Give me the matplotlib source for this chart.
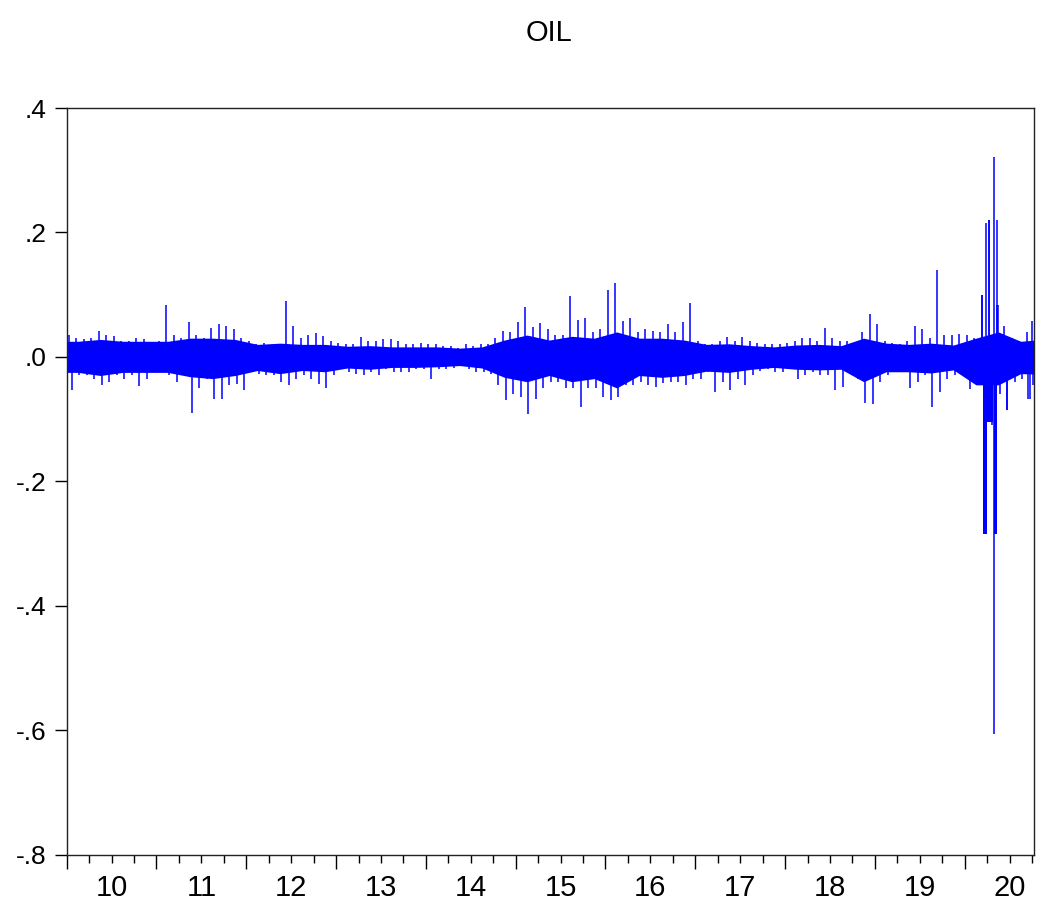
import numpy as np
import matplotlib
matplotlib.use("Agg")
import matplotlib.pyplot as plt
from matplotlib.ticker import FixedLocator, FuncFormatter

plt.rcParams['font.family'] = ['Liberation Sans Narrow', 'Liberation Sans', 'DejaVu Sans']

# daily oil returns (Jan 2010 .. Sep 2020)
month_hi = [
    0.035, 0.030, 0.028, 0.030, 0.041, 0.035, 0.033, 0.025, 0.025, 0.030, 0.028, 0.022,  # 2010
    0.025, 0.084, 0.035, 0.030, 0.056, 0.035, 0.030, 0.047, 0.052, 0.050, 0.045, 0.030,  # 2011
    0.025, 0.020, 0.022, 0.018, 0.020, 0.090, 0.049, 0.030, 0.035, 0.039, 0.034, 0.025,  # 2012
    0.022, 0.020, 0.020, 0.032, 0.025, 0.025, 0.028, 0.028, 0.025, 0.020, 0.020, 0.022,  # 2013
    0.020, 0.020, 0.018, 0.018, 0.015, 0.020, 0.018, 0.020, 0.020, 0.030, 0.041, 0.040,  # 2014
    0.056, 0.080, 0.048, 0.055, 0.045, 0.035, 0.035, 0.098, 0.060, 0.062, 0.040, 0.045,  # 2015
    0.108, 0.118, 0.058, 0.062, 0.040, 0.045, 0.042, 0.040, 0.053, 0.040, 0.056, 0.086,  # 2016
    0.025, 0.020, 0.020, 0.025, 0.032, 0.025, 0.032, 0.025, 0.022, 0.020, 0.020, 0.020,  # 2017
    0.022, 0.025, 0.030, 0.030, 0.025, 0.046, 0.030, 0.025, 0.025, 0.022, 0.040, 0.069,  # 2018
    0.053, 0.025, 0.022, 0.020, 0.025, 0.050, 0.045, 0.030, 0.139, 0.035, 0.035, 0.037,  # 2019
    0.035, 0.030, 0.100, 0.220, 0.083, 0.050, 0.030, 0.025, 0.040,                       # 2020
]
month_lo = [
    -0.054, -0.030, -0.030, -0.035, -0.045, -0.040, -0.030, -0.035, -0.030, -0.047, -0.035, -0.025,
    -0.025, -0.030, -0.041, -0.030, -0.091, -0.050, -0.035, -0.068, -0.068, -0.045, -0.043, -0.054,
    -0.025, -0.028, -0.030, -0.030, -0.040, -0.046, -0.035, -0.030, -0.035, -0.043, -0.050, -0.030,
    -0.020, -0.025, -0.028, -0.030, -0.025, -0.030, -0.020, -0.025, -0.025, -0.025, -0.020, -0.020,
    -0.035, -0.020, -0.020, -0.018, -0.015, -0.020, -0.025, -0.025, -0.028, -0.046, -0.070, -0.060,
    -0.065, -0.092, -0.068, -0.050, -0.040, -0.040, -0.050, -0.050, -0.081, -0.050, -0.050, -0.065,
    -0.070, -0.065, -0.045, -0.045, -0.040, -0.045, -0.049, -0.042, -0.040, -0.040, -0.045, -0.035,
    -0.035, -0.025, -0.057, -0.040, -0.054, -0.035, -0.046, -0.030, -0.022, -0.020, -0.025, -0.025,
    -0.020, -0.035, -0.030, -0.025, -0.030, -0.030, -0.054, -0.049, -0.025, -0.035, -0.074, -0.076,
    -0.040, -0.030, -0.025, -0.025, -0.050, -0.040, -0.030, -0.081, -0.057, -0.035, -0.030, -0.030,
    -0.051, -0.040, -0.284, -0.110, -0.060, -0.086, -0.040, -0.035, -0.067,
]

# dense core of the series, per quarter (2010Q1 .. 2020Q4)
quarter_hi = [
    0.025, 0.028, 0.025, 0.025,
    0.025, 0.030, 0.030, 0.028,
    0.020, 0.022, 0.020, 0.020,
    0.017, 0.018, 0.016, 0.016,
    0.016, 0.014, 0.016, 0.027,
    0.035, 0.027, 0.033, 0.030,
    0.040, 0.030, 0.030, 0.027,
    0.020, 0.021, 0.018, 0.016,
    0.019, 0.020, 0.018, 0.030,
    0.022, 0.020, 0.022, 0.019,
    0.030, 0.040, 0.025, 0.028,
]
quarter_lo = [
    -0.025, -0.030, -0.025, -0.025,
    -0.025, -0.032, -0.035, -0.030,
    -0.022, -0.027, -0.022, -0.024,
    -0.018, -0.020, -0.017, -0.017,
    -0.016, -0.014, -0.018, -0.033,
    -0.040, -0.030, -0.040, -0.035,
    -0.050, -0.030, -0.033, -0.030,
    -0.023, -0.025, -0.020, -0.017,
    -0.020, -0.021, -0.020, -0.040,
    -0.024, -0.024, -0.026, -0.021,
    -0.045, -0.045, -0.027, -0.028,
]

# single large moves in spring 2020 and at the end of the sample
spike_dates = [2020.189, 2020.237, 2020.274, 2020.329, 2020.329, 2020.356, 2020.371,
               2020.468, 2020.708, 2020.752, 2020.762]
spike_values = [0.099, 0.215, 0.220, 0.321, -0.607, 0.220, 0.083,
                -0.086, -0.067, 0.058, -0.045]

# periods where the series is a solid block of large negative returns
block_start = [2020.200, 2020.251, 2020.332]
block_end = [2020.251, 2020.318, 2020.359]
block_low = [-0.284, -0.105, -0.284]

x_start, x_end = 2010.0, 2020.772
blue = '#0000ff'

fig = plt.figure(figsize=(10.37, 9.13), dpi=100)
ax = fig.add_axes([66.7 / 1037, 1 - 854.5 / 913, (1034 - 66.7) / 1037, (854.5 - 108) / 913])

# core band, drawn through the quarter centres
qc = x_start + (np.arange(len(quarter_hi)) + 0.5) / 4
qx = np.concatenate([[x_start], qc, [x_end + 0.1]])
qh = np.concatenate([[quarter_hi[0]], quarter_hi, [quarter_hi[-1]]])
ql = np.concatenate([[quarter_lo[0]], quarter_lo, [quarter_lo[-1]]])
ax.fill_between(qx, ql, qh, color=blue, lw=0)

# monthly extremes as thin vertical strokes
m0 = x_start + np.arange(len(month_hi)) / 12
ax.vlines(m0 + 0.3 / 12, 0, month_hi, color=blue, lw=1.1)
ax.vlines(m0 + 0.7 / 12, 0, month_lo, color=blue, lw=1.1)

for s, e, lo in zip(block_start, block_end, block_low):
    ax.fill_between([s, e], [lo, lo], [0.03, 0.03], color=blue, lw=0)
ax.vlines(spike_dates, 0, spike_values, color=blue, lw=1.1)

ax.set_xlim(x_start, x_end)
ax.set_ylim(-0.8, 0.4)

years = np.arange(2010, 2021)
quarters = [y + q for y in years for q in (0.25, 0.5, 0.75)]
ax.xaxis.set_major_locator(FixedLocator(years))
ax.xaxis.set_minor_locator(FixedLocator(quarters))
ax.xaxis.set_major_formatter(FuncFormatter(lambda x, p: ''))
ax.xaxis.set_minor_formatter(FuncFormatter(
    lambda x, p: '%02d' % (int(x) % 100) if abs(x % 1 - 0.5) < 1e-6 else ''))

yt = [-0.8, -0.6, -0.4, -0.2, 0.0, 0.2, 0.4]
ax.yaxis.set_major_locator(FixedLocator(yt))
ax.yaxis.set_major_formatter(FuncFormatter(lambda y, p: ('%.1f' % y).replace('0.', '.')))

ax.tick_params(axis='x', which='major', direction='out', length=10, width=1, labelsize=21)
ax.tick_params(axis='x', which='minor', direction='out', length=5.8, width=1, pad=8, labelsize=21)
ax.tick_params(axis='y', which='major', direction='out', length=8.6, width=1, pad=6)
for lab in ax.get_yticklabels():
    lab.set_family(['Liberation Sans', 'DejaVu Sans'])
    lab.set_fontsize(19)

for sp in ax.spines.values():
    sp.set_linewidth(1.0)
    sp.set_color('#222222')

fig.text(549 / 1037, 1 - 33 / 913, 'OIL', ha='center', va='center', fontsize=21)

fig.savefig('out.png', dpi=100)
